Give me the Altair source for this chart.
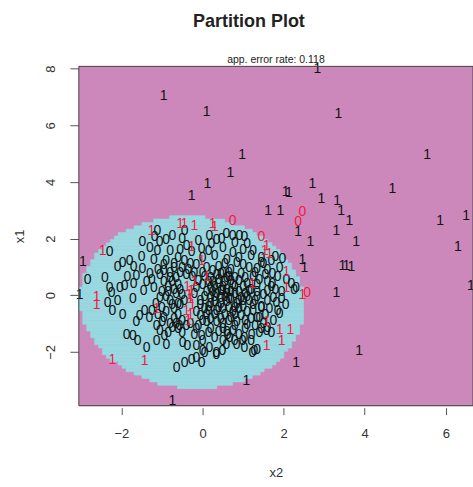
import altair as alt
import numpy as np
import pandas as pd

# ---------------- axes ----------------
x2_domain = [-3.05, 6.67]
x1_domain = [-3.90, 8.08]
x2_ticks = [-2, 0, 2, 4, 6]
x1_ticks = [-2, 0, 2, 4, 6, 8]

# ---------------- partition boundary ----------------
boundary_x2 = [-0.07, -0.07, 2.51, -2.83, -2.90, -2.34, -2.66, -1.50, -0.94, -1.92,
               -2.66, -2.34, -1.92, -1.50, -1.01, 1.03, 1.60, 2.09, 2.44, 0.79,
               1.21, 1.70, 2.09, 2.27, -3.05, -3.05]
boundary_x1 = [2.82, -3.25, -0.47, 0.84, -0.93, 1.75, 1.29, 2.48, 2.64, 2.24,
               -1.53, -2.12, -2.58, -2.93, -3.18, -2.93, -2.58, -2.12, -1.42, 2.58,
               2.38, 1.72, 1.12, 0.31, 0.70, -0.65]

# ---------------- observations ----------------
# class 0, correctly classified (black "0")
class0_ok = [
    (-2.83, 0.52), (-2.09, 1.01), (-1.97, 1.12), (-1.80, 1.22), (-2.41, 0.59), (-2.29, 0.24),
    (-2.04, 0.24), (-1.92, 0.34), (-1.85, 0.66), (-1.63, 0.69), (-1.48, 0.94), (-1.38, 0.48),
    (-1.48, 1.89), (-1.18, 2.07), (-1.11, 2.28), (-1.06, 1.89), (-1.11, 1.57), (-0.74, 2.10),
    (-0.44, 2.28), (-0.39, 1.75), (-0.27, 1.54), (-0.02, 1.64), (0.17, 2.10), (0.22, 1.82),
    (0.47, 2.00), (0.59, 2.17), (0.74, 2.10), (0.91, 2.10), (-2.29, 1.54), (-2.24, 0.06),
    (-2.34, -0.29), (-2.09, -0.22), (-2.22, -0.57), (-1.97, -0.71), (-1.72, -0.12), (-1.63, -0.93),
    (-1.55, -0.75), (-1.43, -0.57), (-1.31, -0.82), (-1.87, -1.42), (-1.72, -1.45), (-1.60, -1.63),
    (-1.38, -1.88), (-1.13, -1.63), (-0.89, -1.77), (-0.94, -1.45), (-0.64, -2.58), (-0.44, -2.40),
    (-0.27, -2.30), (-0.15, -2.23), (-0.49, -1.70), (-0.37, -1.81), (-0.15, -1.81), (0.00, -1.98),
    (-0.02, -1.45), (0.34, -2.12), (0.49, -1.98), (0.59, -1.77), (0.84, -1.77), (0.99, -1.63),
    (0.67, -1.52), (-0.74, -1.17), (-0.57, -1.07), (-1.13, -1.07), (-0.99, -0.93), (1.90, -0.65),
    (1.58, -1.28), (1.21, -1.42), (1.03, -1.52), (1.35, -1.95), (1.23, -2.05), (0.62, -1.42),
    (0.34, -2.05), (0.17, -1.88), (0.05, -2.05), (-0.02, -2.40), (1.82, -0.29), (1.45, -0.40),
    (1.35, -0.82), (1.03, 2.07), (1.45, 1.12), (1.70, 1.19), (1.97, 1.29), (1.72, 0.76),
    (2.07, 0.52), (2.19, 0.41), (2.26, 0.17), (1.72, 0.41), (1.35, 0.94), (2.31, 0.24),
    (1.85, -0.57), (1.60, -0.22), (1.28, -1.98), (1.03, -1.88), (0.79, -1.63), (1.80, 1.36),
    (-0.90, 1.95), (-0.50, 2.00), (-0.10, 1.90), (0.35, 1.95), (0.80, 1.85), (1.10, 1.80),
    (-1.30, 1.65), (-0.80, 1.55), (-0.55, 1.60), (0.15, 1.55), (0.50, 1.65), (0.75, 1.50),
    (1.00, 1.60), (1.25, 1.55), (-1.50, 1.35), (-1.20, 1.25), (-0.90, 1.20), (-0.60, 1.30),
    (-0.30, 1.10), (0.00, 1.30), (0.30, 1.40), (0.60, 1.25), (0.90, 1.30), (1.20, 1.40),
    (1.45, 1.30), (-1.70, 1.00), (-1.10, 0.90), (-0.80, 0.80), (-0.50, 0.95), (-0.20, 0.80),
    (0.10, 0.95), (0.40, 1.00), (0.70, 0.90), (1.00, 1.05), (1.30, 0.80), (1.60, 0.90),
    (1.90, 0.95), (-1.25, 0.55), (-0.95, 0.45), (-0.65, 0.60), (-0.40, 0.70), (-0.10, 0.50),
    (0.20, 0.60), (0.45, 0.75), (0.55, 0.45), (0.80, 0.60), (1.10, 0.40), (1.40, 0.55),
    (1.70, 0.30), (-1.00, 0.10), (-0.70, 0.20), (-0.50, 0.00), (-0.15, 0.25), (0.10, 0.10),
    (0.30, 0.30), (0.60, 0.20), (0.90, 0.10), (1.20, 0.20), (1.50, 0.00), (1.95, 0.10),
    (0.75, 0.35), (0.35, 0.05), (-1.15, -0.30), (-0.80, -0.20), (-0.55, -0.35), (-0.05, -0.20),
    (0.20, -0.10), (0.45, -0.30), (0.70, -0.15), (1.00, -0.40), (1.30, -0.20), (1.65, -0.50),
    (2.05, -0.35), (0.55, -0.05), (0.95, -0.10), (-0.90, -0.60), (-0.60, -0.70), (-0.15, -0.60),
    (0.05, -0.50), (0.30, -0.70), (0.50, -0.50), (0.80, -0.70), (1.10, -0.60), (1.40, -0.80),
    (1.75, -0.90), (0.65, -0.45), (0.90, -0.50), (0.15, -0.40), (-0.80, -1.00), (-0.40, -1.10),
    (0.00, -0.90), (0.20, -1.20), (0.50, -1.00), (0.80, -1.10), (1.05, -0.90), (1.30, -1.10),
    (1.60, -1.15), (0.45, -0.85), (0.85, -0.95), (1.20, -0.85), (-0.20, -1.40), (0.30, -1.50),
    (0.60, -1.30), (0.90, -1.40), (1.20, -1.60), (0.40, -1.30), (-0.50, -1.35), (0.25, 0.45),
    (-0.05, -0.75), (0.05, 0.65), (0.50, 0.80), (0.70, -0.80), (1.05, 0.60), (0.15, -0.55),
    (0.60, 0.05), (0.30, -0.25), (-0.60, -0.30), (0.80, 0.30), (0.40, 0.55), (0.65, 0.65),
    (0.95, 0.75), (1.15, 0.15), (0.35, -0.55), (0.60, -0.25), (0.10, -0.95), (0.75, -0.60),
    (1.00, -0.20), (0.20, 0.25), (-0.20, 0.05), (0.45, 0.15), (-1.45, 0.15), (-1.70, 0.40),
    (-0.95, 1.05), (-0.70, 0.95), (-0.35, 0.90), (0.25, 0.85), (0.55, 1.10), (0.85, 1.15),
    (1.15, 0.95), (1.50, 1.10), (-1.05, 0.70), (-0.75, 0.45), (-0.25, 0.65), (0.00, 0.80),
    (0.35, 0.70), (0.65, 0.80), (0.90, 0.50), (1.25, 0.65), (1.55, 0.70), (-0.85, 0.30),
    (-0.60, 0.35), (0.00, 0.35), (0.15, 0.45), (0.50, 0.30), (0.70, 0.50), (1.00, 0.30),
    (1.35, 0.35), (1.60, 0.15), (-0.90, -0.05), (-0.65, 0.05), (0.05, -0.05), (0.25, 0.10),
    (0.45, -0.10), (0.80, 0.05), (1.05, 0.05), (1.35, -0.05), (1.75, -0.10), (-1.00, -0.45),
    (-0.70, -0.50), (-0.05, -0.35), (0.20, -0.30), (0.40, -0.45), (0.55, -0.70), (0.85, -0.30),
    (1.15, -0.20), (1.45, -0.45), (-0.70, -0.85), (-0.50, -0.90), (-0.10, -1.10), (0.10, -0.70),
    (0.35, -0.95), (0.65, -0.90), (0.95, -0.75), (1.25, -0.55), (1.50, -1.00), (-0.60, -1.20),
    (-0.15, -1.20), (0.15, -1.35), (0.50, -1.20), (0.75, -1.25), (1.05, -1.20), (1.40, -1.35),
    (0.00, -1.60), (0.50, -1.60), (0.60, 0.60), (0.70, 0.10), (0.90, -0.20), (0.30, -0.05),
    (0.50, 0.15), (0.80, -0.45), (1.10, -0.05), (0.20, -0.85), (0.65, -0.15), (0.40, 0.40),
    (-1.20, 0.25), (-1.05, -0.10), (-0.85, 0.10), (-0.75, -0.35), (-0.95, -0.80), (-0.80, 0.60),
    (-0.55, 0.80), (-0.65, -1.00), (-0.45, -0.20), (-0.55, 0.20), (-1.25, -0.55), (-1.10, -0.70),
    (-0.95, 0.85), (-1.30, 0.75), (-0.70, 1.10), (-0.45, 1.20), (-0.15, 1.05), (-1.05, -1.25),
    (-0.85, -1.35), (-0.30, -1.00), (1.25, -0.35), (1.55, -0.70), (1.35, 0.10), (1.60, 0.45),
    (1.85, 0.65), (1.45, -1.20), (1.70, -1.35), (1.10, -1.05), (1.95, -0.15), (1.80, 0.20),
]
# class 0, misclassified (red "0")
class0_err = [(0.74, 2.63), (1.45, 2.06), (2.36, 2.59), (2.46, 2.94), (2.58, 0.06)]
# class 1, correctly classified (black "1")
class1_ok = [
    (2.83, 7.98), (-0.96, 7.03), (0.10, 6.46), (3.35, 6.40), (0.98, 4.95), (5.54, 4.95),
    (0.69, 4.32), (0.12, 3.93), (2.71, 3.93), (4.68, 3.75), (2.05, 3.64), (2.13, 3.62),
    (-0.27, 3.50), (2.93, 3.40), (3.32, 3.33), (1.62, 2.98), (1.92, 2.98), (3.42, 2.98),
    (3.62, 2.63), (5.86, 2.63), (6.50, 2.81), (2.36, 2.24), (3.30, 2.28), (2.66, 1.89),
    (3.79, 1.89), (6.30, 1.71), (2.46, 1.25), (2.51, 0.97), (3.45, 1.04), (3.55, 1.02),
    (3.67, 1.00), (6.62, 0.31), (3.30, 0.06), (3.86, -1.98), (2.31, -2.40), (-0.74, -3.75),
    (1.08, -3.04), (-2.95, 1.18), (-3.03, 0.00),
]
# class 1, misclassified (red "1")
class1_err = [
    (-2.46, 1.57), (-1.26, 2.28), (-0.55, 2.50), (-0.45, 2.50), (-0.20, 2.45), (0.25, 2.52),
    (0.30, 2.40), (-2.61, -0.05), (-2.61, -0.36), (-2.22, -2.30), (-1.43, -2.34), (1.58, 1.75),
    (1.53, 1.57), (1.65, 1.47), (1.23, 0.41), (2.07, 0.83), (2.07, 0.24), (2.46, 0.00),
    (1.58, -0.93), (1.90, -1.24), (2.17, -1.24), (1.95, -1.63), (1.58, -1.81), (-0.27, 1.71),
    (-0.02, 1.22), (0.10, 0.66), (-0.38, 0.30), (-0.28, 0.15), (-0.33, 0.00), (-0.30, -0.15),
    (-0.25, -0.35), (-0.40, -0.55), (-0.30, -0.70), (-0.35, -0.90), (-0.20, 0.45), (-1.13, -0.47),
]

error_rate_text = "app. error rate: 0.118"
title_text = "Partition Plot"

MAGENTA = "#CC88BB"
CYAN = "#98D8E0"
FONT = "Liberation Sans"

# ---------------- region grid (quadratic boundary fitted to the read points) ----------------
bx = np.array(boundary_x2)
by = np.array(boundary_x1)
M = np.column_stack([bx ** 2, bx * by, by ** 2, bx, by])
coef, *_ = np.linalg.lstsq(M, np.ones_like(bx), rcond=None)


def inside(x, y):
    return (coef[0] * x * x + coef[1] * x * y + coef[2] * y * y + coef[3] * x + coef[4] * y) < 1


nx, ny = 100, 100
xe = np.linspace(x2_domain[0], x2_domain[1], nx + 1)
ye = np.linspace(x1_domain[0], x1_domain[1], ny + 1)
xc = (xe[:-1] + xe[1:]) / 2
runs = []
for j in range(ny):
    yc = (ye[j] + ye[j + 1]) / 2
    m = inside(xc, yc)
    i = 0
    while i < nx:
        if m[i]:
            k = i
            while k + 1 < nx and m[k + 1]:
                k += 1
            runs.append(dict(a=xe[i], b=xe[k + 1], c=ye[j], d=ye[j + 1]))
            i = k + 1
        else:
            i += 1
region_df = pd.DataFrame(runs)

frame_df = pd.DataFrame([dict(a=x2_domain[0], b=x2_domain[1], c=x1_domain[0], d=x1_domain[1])])

rows = []
for (x, y) in class0_ok:
    rows.append(dict(x2=x, x1=y, lab="0", st="ok"))
for (x, y) in class1_ok:
    rows.append(dict(x2=x, x1=y, lab="1", st="ok"))
for (x, y) in class0_err:
    rows.append(dict(x2=x, x1=y, lab="0", st="err"))
for (x, y) in class1_err:
    rows.append(dict(x2=x, x1=y, lab="1", st="err"))
pts = pd.DataFrame(rows)

xs = alt.Scale(domain=x2_domain, nice=False, zero=False)
ys = alt.Scale(domain=x1_domain, nice=False, zero=False)

x_axis = alt.Axis(values=x2_ticks, title="x2", grid=False, domain=False, tickSize=7,
                  tickColor="#555555", labelFontSize=13, labelFont=FONT, labelColor="#333333",
                  labelPadding=13, titleFontSize=13, titleFont=FONT, titleFontWeight="normal",
                  titleColor="#333333", titlePadding=26, offset=2)
y_axis = alt.Axis(values=x1_ticks, title="x1", grid=False, domain=False, tickSize=9,
                  tickColor="#555555", labelFontSize=13, labelFont=FONT, labelColor="#333333",
                  labelAngle=270, labelAlign="center", labelBaseline="bottom", labelPadding=12,
                  titleFontSize=13, titleFont=FONT, titleFontWeight="normal",
                  titleColor="#333333", titlePadding=18)

background = alt.Chart(frame_df).mark_rect(fill=MAGENTA).encode(
    x=alt.X("a:Q", scale=xs, axis=x_axis), x2="b:Q",
    y=alt.Y("c:Q", scale=ys, axis=y_axis), y2="d:Q")

region = alt.Chart(region_df).mark_rect(fill=CYAN, stroke=CYAN, strokeWidth=0.6).encode(
    x=alt.X("a:Q", scale=xs), x2="b:Q", y=alt.Y("c:Q", scale=ys), y2="d:Q")

text_ok = alt.Chart(pts[pts.st == "ok"]).mark_text(
    font=FONT, fontSize=14, color="#111111", baseline="middle", align="center").encode(
    x=alt.X("x2:Q", scale=xs), y=alt.Y("x1:Q", scale=ys), text="lab:N")

text_err = alt.Chart(pts[pts.st == "err"]).mark_text(
    font=FONT, fontSize=14, color="#EE2040", baseline="middle", align="center").encode(
    x=alt.X("x2:Q", scale=xs), y=alt.Y("x1:Q", scale=ys), text="lab:N")

frame = alt.Chart(frame_df).mark_rect(fillOpacity=0, stroke="#444444", strokeWidth=1).encode(
    x=alt.X("a:Q", scale=xs), x2="b:Q", y=alt.Y("c:Q", scale=ys), y2="d:Q")

sub_df = pd.DataFrame([dict(t=error_rate_text, xm=(x2_domain[0] + x2_domain[1]) / 2)])
subtitle = alt.Chart(sub_df).mark_text(
    font=FONT, fontSize=10.5, color="#222222", baseline="alphabetic", align="center").encode(
    x=alt.X("xm:Q", scale=xs), y=alt.value(-3), text="t:N")

title_df = pd.DataFrame([dict(t=title_text)])
title = alt.Chart(title_df).mark_text(
    font=FONT, fontSize=18, fontWeight="bold", color="#222222", baseline="alphabetic",
    align="center").encode(x=alt.value(170.5), y=alt.value(-39), text="t:N")

chart = alt.layer(background, region, text_ok, text_err, frame, subtitle, title).properties(
    width=395, height=340,
    autosize=alt.AutoSizeParams(type="none"),
    padding={"left": 79, "top": 66, "right": 0, "bottom": 81},
).configure_view(stroke=None).configure(background="white")

chart.save("out.html", embed_options={"renderer": "svg", "actions": False})
